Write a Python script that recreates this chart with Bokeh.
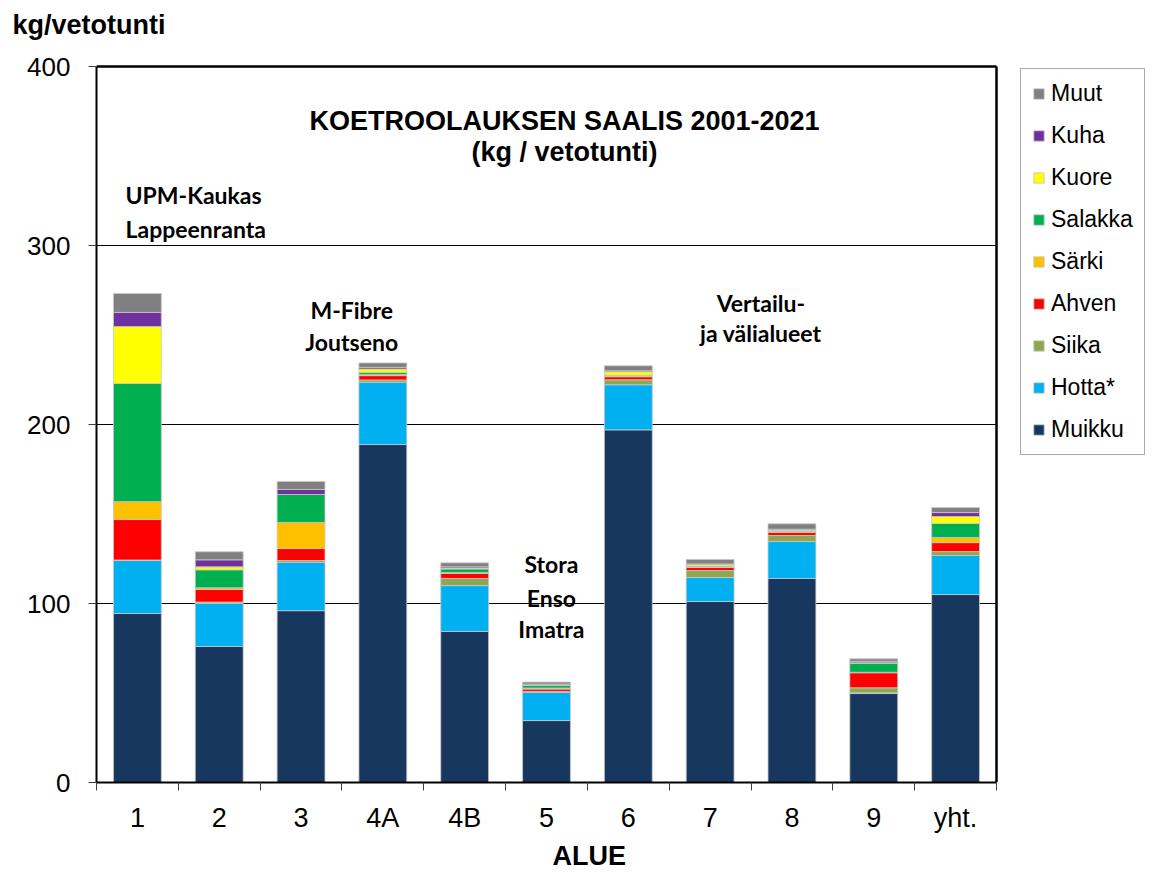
from bokeh.plotting import figure
from bokeh.models import (Range1d, FixedTicker, Legend, LegendItem, Label, ColumnDataSource, Title)
from bokeh.embed import file_html
from bokeh.resources import INLINE

categories = ["1", "2", "3", "4A", "4B", "5", "6", "7", "8", "9", "yht."]
species = ["Muikku", "Hotta*", "Siika", "Ahven", "Särki", "Salakka", "Kuore", "Kuha", "Muut"]
colors = ["#17375E", "#00B0F0", "#8EA850", "#FF0000", "#FFC000", "#00B050", "#FFFF00", "#7030A0", "#808080"]

muikku  = [94.4, 76.0, 96.0, 188.8, 84.4, 34.6, 197.0, 101.1, 114.0, 49.7, 105.0]
hotta   = [29.6, 24.0, 27.0, 34.8, 25.6, 15.7, 25.2, 13.4, 20.6, 0.4, 21.8]
siika   = [0.3, 0.8, 1.0, 1.3, 4.0, 0.6, 2.8, 3.9, 3.4, 2.8, 2.2]
ahven   = [22.6, 7.0, 6.7, 2.4, 2.8, 1.3, 1.7, 1.7, 1.7, 8.4, 5.0]
sarki   = [10.0, 1.0, 14.6, 0.7, 0.5, 0.6, 0.4, 0.5, 0.5, 0.3, 2.9]
salakka = [66.0, 10.0, 15.6, 1.1, 2.0, 1.5, 0.4, 0.4, 0.4, 5.0, 7.8]
kuore   = [31.8, 1.7, 0.0, 1.9, 0.5, 0.2, 2.0, 0.8, 0.5, 0.3, 3.9]
kuha    = [7.9, 3.9, 2.8, 0.9, 0.7, 0.5, 0.5, 0.3, 0.4, 0.8, 2.2]
muut    = [10.6, 4.5, 4.5, 2.5, 2.2, 1.1, 2.8, 2.5, 3.0, 1.4, 2.8]

y_ticks = [0, 100, 200, 300, 400]
grid_ticks = [100, 200, 300]

series = [muikku, hotta, siika, ahven, sarki, salakka, kuore, kuha, muut]
ncat = len(categories)
ymax = y_ticks[-1]

# layout (pixels)
W, H = 1152, 875
left, top_pad, bottom = 96, 64, 93
plot_w, plot_h = 900, 716
frame_w = W - left
frame_h = H - top_pad - bottom
x_end = ncat * frame_w / plot_w
y_end = ymax * frame_h / plot_h

xpos = [i + 0.5 for i in range(ncat)]
data = {"x": xpos}
for name, vals in zip(species, series):
    data[name] = vals
source = ColumnDataSource(data)

p = figure(width=W, height=H, output_backend="svg", toolbar_location=None,
           x_range=Range1d(0, x_end), y_range=Range1d(0, y_end),
           min_border_left=left, min_border_top=top_pad, min_border_right=0, min_border_bottom=bottom)
p.background_fill_color = "white"
p.border_fill_color = "white"
p.outline_line_color = None

renderers = p.vbar_stack(species, x="x", width=0.585, source=source, color=colors,
                         line_color="#c8c8c8", line_width=0.8)

# gridlines and plot box
p.xgrid.grid_line_color = None
p.ygrid.grid_line_color = None
p.segment(x0=[0] * len(grid_ticks), x1=[ncat] * len(grid_ticks), y0=grid_ticks, y1=grid_ticks,
          line_color="black", line_width=1, level="underlay")
p.segment(x0=[0, ncat], x1=[ncat, ncat], y0=[ymax, 0], y1=[ymax, ymax],
          line_color="black", line_width=2.5)

# axes
p.xaxis.bounds = (0, ncat)
p.xaxis.ticker = FixedTicker(ticks=xpos, minor_ticks=list(range(ncat + 1)))
p.xaxis.major_label_overrides = {x: c for x, c in zip(xpos, categories)}
p.xaxis.major_tick_out = 0
p.xaxis.major_tick_in = 0
p.xaxis.minor_tick_out = 8
p.xaxis.minor_tick_in = 0
p.xaxis.minor_tick_line_color = "#404040"
p.xaxis.axis_line_color = "black"
p.xaxis.axis_line_width = 2
p.xaxis.major_label_text_font = "Liberation Sans"
p.xaxis.major_label_text_font_size = "27px"
p.xaxis.major_label_text_color = "black"
p.xaxis.major_label_standoff = 12

p.yaxis.bounds = (0, ymax)
p.yaxis.ticker = FixedTicker(ticks=y_ticks, minor_ticks=[])
p.yaxis.major_tick_out = 8
p.yaxis.major_tick_in = 0
p.yaxis.major_tick_line_color = "#404040"
p.yaxis.axis_line_color = "black"
p.yaxis.axis_line_width = 2
p.yaxis.major_label_text_font = "Liberation Sans"
p.yaxis.major_label_text_font_size = "26px"
p.yaxis.major_label_text_color = "black"
p.yaxis.major_label_standoff = 18

# default title unused (negligible size)
p.title.text = ""
p.title.standoff = 0
p.title.text_font_size = "1px"

# spacer (inner) and y-axis unit title (outer) above the frame
spacer = Title(text="\u00a0", text_font_size="1px", standoff=22, text_color="white")
p.add_layout(spacer, "above")
unit = Title(text="kg/vetotunti", align="left", offset=-84, standoff=0,
             text_font="Liberation Sans", text_font_size="27px", text_font_style="bold",
             text_color="black")
p.add_layout(unit, "above")

# x-axis name below
alue = Title(text="ALUE", align="left", offset=456, text_font="Liberation Sans",
             text_font_size="27px", text_font_style="bold", text_color="black", standoff=7)
p.add_layout(alue, "below")

# legend (reverse order, top = Muut)
items = [LegendItem(label=name, renderers=[r]) for name, r in zip(species, renderers)][::-1]
legend = Legend(items=items, location=(924, 327))
legend.border_line_color = "#555555"
legend.border_line_width = 1
legend.label_text_font = "Liberation Sans"
legend.label_text_font_size = "23px"
legend.label_text_color = "black"
legend.glyph_width = 13
legend.glyph_height = 13
legend.label_height = 24
legend.spacing = 15
legend.label_standoff = 6
legend.padding = 11
legend.margin = 0
legend.background_fill_color = "white"
p.add_layout(legend)

def txt(x, y, t, size="23px", font="Lato", align="center"):
    lab = Label(x=x, y=y, text=t, text_font=font, text_font_size=size,
                text_font_style="bold", text_align=align, text_baseline="middle",
                text_color="black")
    p.add_layout(lab)

txt(5.72, 369.8, "KOETROOLAUKSEN SAALIS 2001-2021", size="27px", font="Liberation Sans")
txt(5.72, 352.0, "(kg / vetotunti)", size="27px", font="Liberation Sans")
txt(0.355, 328, "UPM-Kaukas", align="left")
txt(0.355, 309, "Lappeenranta", align="left")
txt(3.12, 264, "M-Fibre")
txt(3.12, 246, "Joutseno")
txt(5.56, 122, "Stora")
txt(5.56, 103, "Enso")
txt(5.56, 85.5, "Imatra")
txt(8.12, 268, "Vertailu-")
txt(8.12, 251, "ja välialueet")

open("out.html", "w").write(file_html(p, INLINE))
